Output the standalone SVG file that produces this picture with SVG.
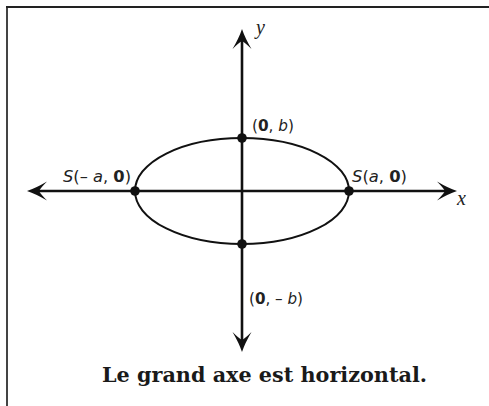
<svg xmlns="http://www.w3.org/2000/svg" width="489" height="406" viewBox="0 0 489 406">
<style>
.ax{stroke:#111;stroke-width:2.6;fill:none}
.el{stroke:#111;stroke-width:2;fill:none}
.pt{fill:#111}
.lb{font-family:"DejaVu Sans","Liberation Sans",sans-serif;font-size:15px;fill:#222}
.var{font-family:"Liberation Serif","DejaVu Serif",serif;font-style:italic;font-size:20px;fill:#222}
.cap{font-family:"DejaVu Serif","Liberation Serif",serif;font-weight:bold;font-size:19.5px;fill:#1a1a1a}
.b{font-weight:bold}
.i{font-style:italic}
</style>
<defs>
<marker id="arr" markerUnits="userSpaceOnUse" markerWidth="24" markerHeight="24" viewBox="-1 -11 24 22" refX="8" refY="0" orient="auto" overflow="visible">
<path d="M20,0 Q11,-3 0,-9.5 Q6,-3.5 8,0 Q6,3.5 0,9.5 Q11,3 20,0 Z" fill="#111"/>
</marker>
</defs>
<g id="frame">
<line x1="7" y1="6" x2="7" y2="406" stroke="#444" stroke-width="2"/>
<line x1="6" y1="7" x2="489" y2="7" stroke="#222" stroke-width="2"/>
</g>
<g id="connectors">
<line class="ax" x1="242" y1="191" x2="445" y2="191" marker-end="url(#arr)"/>
<line class="ax" x1="242" y1="191" x2="39" y2="191" marker-end="url(#arr)"/>
<line class="ax" x1="242" y1="191" x2="242" y2="41" marker-end="url(#arr)"/>
<line class="ax" x1="242" y1="191" x2="242" y2="340" marker-end="url(#arr)"/>
</g>
<g id="ellipse">
<ellipse class="el" cx="242" cy="191" rx="107" ry="53"/>
</g>
<g id="vertex-left">
<circle class="pt" cx="135" cy="191" r="4.8"/>
<text class="lb" x="63" y="182" textLength="68" lengthAdjust="spacingAndGlyphs"><tspan class="i">S</tspan>(– <tspan class="i">a</tspan>, <tspan class="b">0</tspan>)</text>
</g>
<g id="vertex-right">
<circle class="pt" cx="349" cy="191" r="4.8"/>
<text class="lb" x="352" y="182" textLength="55" lengthAdjust="spacingAndGlyphs"><tspan class="i">S</tspan>(<tspan class="i">a</tspan>, <tspan class="b">0</tspan>)</text>
</g>
<g id="covertex-top">
<circle class="pt" cx="242" cy="138" r="4.8"/>
<text class="lb" x="252" y="131" textLength="42" lengthAdjust="spacingAndGlyphs">(<tspan class="b">0</tspan>, <tspan class="i">b</tspan>)</text>
</g>
<g id="covertex-bottom">
<circle class="pt" cx="242" cy="244" r="4.8"/>
<text class="lb" x="249" y="304" textLength="54" lengthAdjust="spacingAndGlyphs">(<tspan class="b">0</tspan>, – <tspan class="i">b</tspan>)</text>
</g>
<g id="axis-labels">
<text class="var" x="256" y="34">y</text>
<text class="var" x="457" y="205">x</text>
</g>
<g id="caption">
<text class="cap" x="102" y="382" textLength="325" lengthAdjust="spacingAndGlyphs">Le grand axe est horizontal.</text>
</g>
</svg>
